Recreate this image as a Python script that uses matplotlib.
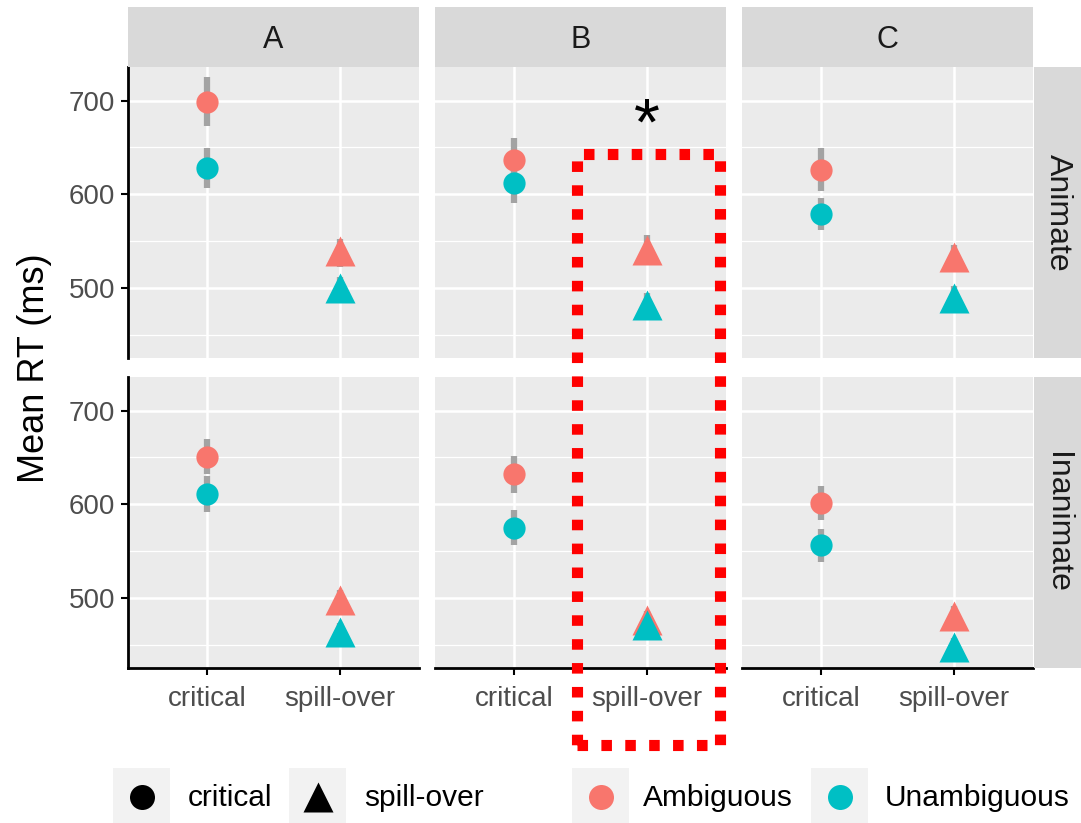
import matplotlib
matplotlib.use('Agg')
import matplotlib.pyplot as plt
from matplotlib.patches import Rectangle

plt.rcParams['font.family'] = ['Liberation Sans', 'DejaVu Sans']

groups = ['A', 'B', 'C']
animacy = ['Animate', 'Inanimate']
positions = ['critical', 'spill-over']
conditions = ['Ambiguous', 'Unambiguous']
colors = ['#F8766D', '#00BFC4']
shapes = ['o', '^']
y_ticks = [500, 600, 700]

# values per panel: A critical, A spill-over, B critical, B spill-over, C critical, C spill-over
animate_amb = [699, 539, 637, 540, 626, 533]
animate_amb_lo = [673, 522, 614, 524, 603, 520]
animate_amb_hi = [725, 552, 660, 556, 649, 546]
animate_unamb = [628, 500, 612, 482, 579, 489]
animate_unamb_lo = [607, 487, 591, 469, 562, 476]
animate_unamb_hi = [649, 512, 634, 495, 596, 502]

inanimate_amb = [651, 498, 632, 476, 601, 481]
inanimate_amb_lo = [632, 488, 612, 466, 583, 471]
inanimate_amb_hi = [670, 508, 652, 486, 619, 491]
inanimate_unamb = [611, 463, 575, 471, 556, 447]
inanimate_unamb_lo = [592, 453, 556, 462, 538, 437]
inanimate_unamb_hi = [630, 473, 594, 480, 574, 457]

data = {
    'Animate': [(animate_amb, animate_amb_lo, animate_amb_hi),
                (animate_unamb, animate_unamb_lo, animate_unamb_hi)],
    'Inanimate': [(inanimate_amb, inanimate_amb_lo, inanimate_amb_hi),
                  (inanimate_unamb, inanimate_unamb_lo, inanimate_unamb_hi)],
}

W, H = 1081, 823
fig = plt.figure(figsize=(W / 100, H / 100), dpi=100)


def box(x0, y0, x1, y1):
    # pixel box (top-left origin) -> figure fraction
    return [x0 / W, 1 - y1 / H, (x1 - x0) / W, (y1 - y0) / H]


col_x = [(128, 419), (435, 726), (742, 1033)]
row_y = [(67, 358), (377, 668)]

for r, anim in enumerate(animacy):
    for c, g in enumerate(groups):
        x0, x1 = col_x[c]
        y0, y1 = row_y[r]
        ax = fig.add_axes(box(x0, y0, x1, y1))
        ax.set_facecolor('#EBEBEB')
        ax.set_xlim(0.4, 2.6)
        ax.set_ylim(425, 736)
        ax.set_yticks(y_ticks)
        ax.set_yticks([450, 550, 650], minor=True)
        ax.set_xticks([1, 2])
        ax.grid(True, which='major', color='white', lw=1.8)
        ax.grid(True, which='minor', axis='y', color='white', lw=0.9)
        ax.set_axisbelow(True)
        for s in ax.spines.values():
            s.set_visible(False)
        ax.tick_params(which='minor', length=0)
        ax.tick_params(axis='both', colors='black', labelcolor='#4D4D4D',
                       labelsize=20, length=5, width=1.5)
        ax.tick_params(axis='x', pad=8)
        ax.tick_params(axis='y', pad=4)
        if c == 0:
            ax.spines['left'].set_visible(True)
            ax.spines['left'].set_linewidth(2)
        else:
            ax.tick_params(axis='y', left=False, labelleft=False)
        if r == 1:
            ax.spines['bottom'].set_visible(True)
            ax.spines['bottom'].set_linewidth(2)
            ax.set_xticklabels(positions)
        else:
            ax.tick_params(axis='x', bottom=False, labelbottom=False)

        for k in range(2):
            mean, lo, hi = data[anim][k]
            for p in range(2):
                i = 2 * c + p
                ax.vlines(p + 1, lo[i], hi[i], color='#A3A3A3', lw=4.5, zorder=2)
        for k in range(2):
            mean, lo, hi = data[anim][k]
            for p in range(2):
                i = 2 * c + p
                ax.plot(p + 1, mean[i], marker=shapes[p], color=colors[k],
                        ms=16 if p == 0 else 21, mec='none', zorder=3)

        # right strips
        if c == 2:
            sax = fig.add_axes(box(1034, y0, 1081, y1))
            sax.set_facecolor('#D9D9D9')
            sax.set_xticks([])
            sax.set_yticks([])
            for s in sax.spines.values():
                s.set_visible(False)
            sax.text(0.5, 0.5, anim, rotation=-90, ha='center', va='center',
                     fontsize=23, color='#1A1A1A', transform=sax.transAxes)

# top strips
for c, g in enumerate(groups):
    x0, x1 = col_x[c]
    sax = fig.add_axes(box(x0, 7, x1, 67))
    sax.set_facecolor('#D9D9D9')
    sax.set_xticks([])
    sax.set_yticks([])
    for s in sax.spines.values():
        s.set_visible(False)
    sax.text(0.5, 0.45, g, ha='center', va='center', fontsize=22,
             color='#1A1A1A', transform=sax.transAxes)

fig.text(35 / W, 1 - 368 / H, 'Mean RT (ms)', rotation=90, ha='center',
         va='center', fontsize=26)

# highlight box and asterisk
rect = Rectangle((577 / W, 1 - 745 / H), (720 - 577) / W, (745 - 154) / H,
                 transform=fig.transFigure, fill=False, edgecolor='#FF0000',
                 lw=8, linestyle=(0, (0.95, 1.2)), zorder=10)
fig.add_artist(rect)
fig.text(647 / W, 1 - 128 / H, '*', ha='center', va='center', fontsize=48)

# legend
lax = fig.add_axes([0, 0, 1, 1 - 760 / H])
lax.set_xlim(0, W)
lax.set_ylim(H, 760)
lax.axis('off')
key_x = [142, 318, 601, 840]
text_x = [188, 364, 643, 885]
key_labels = positions + conditions
key_marker = shapes + ['o', 'o']
key_color = ['black', 'black'] + colors
for kx, tx, lab, m, col in zip(key_x, text_x, key_labels, key_marker, key_color):
    lax.add_patch(Rectangle((kx - 29, 768), 57, 60, facecolor='#F2F2F2',
                            edgecolor='none', clip_on=False))
    lax.plot(kx, 797, marker=m, color=col, ms=18 if m == 'o' else 22,
             mec='none', clip_on=False)
    lax.text(tx, 798, lab, ha='left', va='center', fontsize=21.5)

fig.savefig('out.png', dpi=100)
